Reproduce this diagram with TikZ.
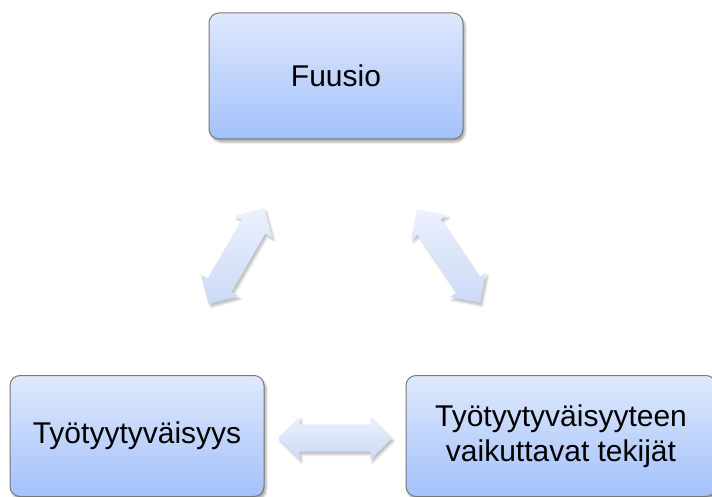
\documentclass[tikz,border=0pt]{standalone}
\usepackage{fontspec}
\setmainfont{Liberation Sans}
\usetikzlibrary{calc}
\usetikzlibrary{shapes.arrows}
\usetikzlibrary{shadows.blur}

\definecolor{boxtop}{RGB}{223,233,253}
\definecolor{boxbottom}{RGB}{163,193,250}
\definecolor{boxline}{RGB}{120,120,120}
\definecolor{arrowtop}{RGB}{236,241,253}
\definecolor{arrowbottom}{RGB}{203,218,246}

\tikzset{
    box/.style={draw=boxline, line width=1pt, rounded corners=10pt,
        top color=boxtop, bottom color=boxbottom, align=center,
        font=\fontsize{30}{35}\selectfont,
        blur shadow={shadow xshift=2pt, shadow yshift=-3pt, shadow opacity=35}},
    link/.style={double arrow, inner sep=0pt, text height=27pt, text depth=0pt,
        minimum width=43pt, double arrow head extend=8pt, double arrow tip angle=90,
        top color=arrowtop, bottom color=arrowbottom,
        blur shadow={shadow xshift=2pt, shadow yshift=-3pt, shadow opacity=25}}
}

\begin{document}
\begin{tikzpicture}[x=1pt,y=-1pt]
        \useasboundingbox (0,0) rectangle (712,497);
        \clip (0,0) rectangle (712,497);

        \node[box, minimum width=254pt, minimum height=126pt] (fuusio) at (336,76) {Fuusio};
        \node[box, minimum width=254pt, minimum height=121pt] (tyo) at (137,436) {Työtyytyväisyys};
        \node[box, minimum width=310pt, minimum height=121pt] (tekijat) at (561,436) {Työtyytyväisyyteen\\vaikuttavat tekijät};

        % block arrows between the boxes
        \node[link, minimum height=111pt, rotate=60] (lnkleft) at ($(fuusio)!.5!(tyo)$) {};
        \node[link, minimum height=113pt, rotate=-56] (lnkright) at ($(fuusio)!.5!(tekijat)$) {};
        \node[link, minimum height=114pt] (lnkbottom) at ($(tyo.east)!.5!(tekijat.west)+(0,2)$) {};
    \end{tikzpicture}
\end{document}
